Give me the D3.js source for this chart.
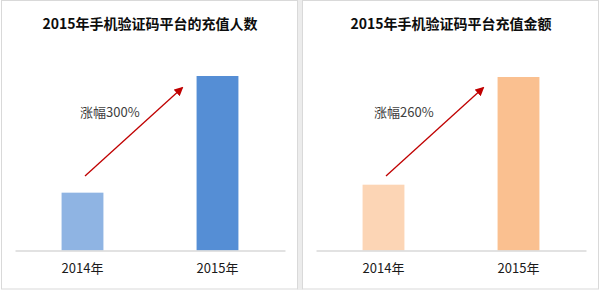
<!DOCTYPE html>
<html>
<head>
<meta charset="utf-8">
<script src="https://cdn.jsdelivr.net/npm/d3@7"></script>
<style>
  body { margin: 0; background: #fff; }
  text { font-family: "Noto Sans CJK SC", "Microsoft YaHei", sans-serif; }
</style>
</head>
<body>
<svg id="chart" width="600" height="290"></svg>
<script>
"use strict";

const years = ["2014年", "2015年"];
const titles = ["2015年手机验证码平台的充值人数", "2015年手机验证码平台充值金额"];
const userCounts = [58, 175];
const amounts = [66, 174];
const growthLabels = ["涨幅300%", "涨幅260%"];

const panels = [
    {title: titles[0], values: userCounts, growth: growthLabels[0], colors: ["#8fb4e3", "#558ed5"], x0: 0},
    {title: titles[1], values: amounts, growth: growthLabels[1], colors: ["#fcd5b5", "#fac090"], x0: 301}
];

const svg = d3.select("#chart");

// gray strip between the two panels
svg.append("rect")
    .attr("x", 297.5).attr("y", 0)
    .attr("width", 5).attr("height", 290)
    .attr("fill", "#ececec");

svg.append("defs").append("marker")
    .attr("id", "arrowhead")
    .attr("viewBox", "0 0 10 10")
    .attr("refX", 8).attr("refY", 5)
    .attr("markerWidth", 7).attr("markerHeight", 7)
    .attr("orient", "auto")
    .append("path")
    .attr("d", "M0,0 L10,5 L0,10 z")
    .attr("fill", "#c00000");

const baseY = 250.5;
const topY = 76;

for (const p of panels) {
    const g = svg.append("g").attr("transform", `translate(${p.x0},0)`);

    g.append("rect")
        .attr("x", 1.5).attr("y", 0.5)
        .attr("width", 296).attr("height", 288.5)
        .attr("fill", "#fff")
        .attr("stroke", "#d9d9d9");

    const x = d3.scaleBand()
        .domain(years)
        .range([15, 285])
        .paddingInner(0.69)
        .paddingOuter(0.345);

    const y = d3.scaleLinear()
        .domain([0, 175])
        .range([baseY, topY]);

    g.append("text")
        .attr("x", 150).attr("y", 29)
        .attr("text-anchor", "middle")
        .attr("font-size", 14)
        .attr("font-weight", "bold")
        .attr("fill", "#0d0d0d")
        .text(p.title);

    g.selectAll(".bar")
        .data(p.values)
        .enter().append("rect")
        .attr("class", "bar")
        .attr("x", (d, i) => x(years[i]))
        .attr("y", d => y(d))
        .attr("width", x.bandwidth())
        .attr("height", d => baseY - y(d))
        .attr("fill", (d, i) => p.colors[i]);

    const axis = g.append("g")
        .attr("transform", `translate(0,${baseY})`)
        .call(d3.axisBottom(x).tickSize(0).tickPadding(13));
    axis.select(".domain").attr("stroke", "#d9d9d9").attr("stroke-width", 1.5);
    axis.selectAll("text")
        .attr("font-size", 13)
        .attr("fill", "#1a1a1a")
        .style("font-family", "'Noto Sans CJK SC', sans-serif");

    // growth arrow from above the first bar towards the second
    g.append("line")
        .attr("x1", 85).attr("y1", 176)
        .attr("x2", 182).attr("y2", 88)
        .attr("stroke", "#c00000")
        .attr("stroke-width", 1.3)
        .attr("marker-end", "url(#arrowhead)");

    g.append("text")
        .attr("x", p.x0 === 0 ? 80 : 73).attr("y", 117)
        .attr("font-size", 13)
        .attr("fill", "#404040")
        .text(p.growth);
}
</script>
</body>
</html>
